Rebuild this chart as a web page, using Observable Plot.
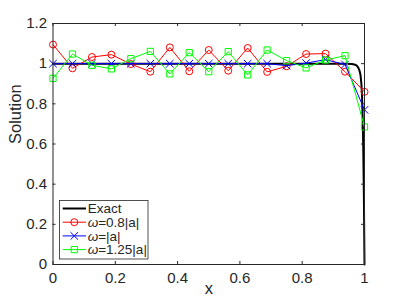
<!DOCTYPE html>
<html><head><meta charset="utf-8">
<script src="https://cdn.jsdelivr.net/npm/d3@7"></script>
<script src="https://cdn.jsdelivr.net/npm/@observablehq/plot@0.6"></script>
<style>body{margin:0;background:#fff;}</style>
</head><body><div id="chart"></div>
<script>
// ---- data ----
const xNodes = [0, 0.0625, 0.125, 0.1875, 0.25, 0.3125, 0.375, 0.4375, 0.5, 0.5625, 0.625, 0.6875, 0.75, 0.8125, 0.875, 0.9375, 1];
const red   = [1.095, 0.977, 1.033, 1.045, 0.998, 0.960, 1.081, 0.962, 1.068, 0.965, 1.078, 0.959, 0.987, 1.048, 1.050, 0.960, 0.860];
const blue  = [1.000, 1.000, 1.000, 1.000, 1.000, 1.000, 1.000, 1.000, 1.000, 1.000, 1.000, 1.000, 0.990, 1.003, 1.020, 0.996, 0.770];
const green = [0.927, 1.048, 0.992, 0.974, 1.025, 1.061, 0.949, 1.055, 0.960, 1.060, 0.944, 1.068, 1.015, 0.979, 1.018, 1.040, 0.685];
const exactX = [0, 0.94, 0.96, 0.97, 0.975, 0.98, 0.984, 0.987, 0.99, 0.992, 0.994, 0.996, 0.998, 1];
const exactY = [1, 1, 0.998, 0.995, 0.99, 0.98, 0.965, 0.945, 0.90, 0.84, 0.74, 0.58, 0.35, 0];
const xTicks = [0, 0.2, 0.4, 0.6, 0.8, 1];
const yTicks = [0, 0.2, 0.4, 0.6, 0.8, 1, 1.2];
const seriesNames = ["Exact", "ω=0.8|a|", "ω=|a|", "ω=1.25|a|"];
const seriesColors = ["#000000", "#ff0000", "#0000ff", "#00ff00"];
const seriesSymbols = [null, "circle", "times", "square"];
const xLabel = "x", yLabel = "Solution";

// ---- layout ----
const W = 402, H = 302, mL = 52.5, mR = 38, mT = 23, mB = 38;
const pw = W - mL - mR, ph = H - mT - mB;
const ink = "#262626", tl = 3, R = 3.5;

const exact = exactX.map((x, i) => ({x, y: exactY[i]}));
const series = [red, blue, green].map(arr => arr.map((v, i) => ({x: xNodes[i], y: v})));

const seriesMarks = [];
series.forEach((s, k) => {
  seriesMarks.push(Plot.line(s, {x: "x", y: "y", stroke: seriesColors[k + 1], strokeWidth: 1}));
  seriesMarks.push(Plot.dot(s, {x: "x", y: "y", symbol: seriesSymbols[k + 1], r: R, stroke: seriesColors[k + 1], strokeWidth: 1, fill: "none"}));
});

const plot = Plot.plot({
  width: W, height: H, marginLeft: mL, marginRight: mR, marginTop: mT, marginBottom: mB,
  style: {fontFamily: "'Liberation Sans', Arial, sans-serif", fontSize: "15px", color: ink, background: "#fff"},
  x: {domain: [0, 1]},
  y: {domain: [0, 1.2]},
  marks: [
    Plot.line(exact, {x: "x", y: "y", stroke: "#000", strokeWidth: 2}),
    ...seriesMarks,
    Plot.axisX({ticks: xTicks, tickFormat: d => String(d), tickSize: 0, tickPadding: 8, label: null, fontSize: 15}),
    Plot.axisY({ticks: yTicks, tickFormat: d => String(d), tickSize: 0, tickPadding: 6, label: null, fontSize: 15}),
    Plot.tickX(xTicks, {x: d => d, stroke: ink, insetTop: ph - tl}),
    Plot.tickX(xTicks, {x: d => d, stroke: ink, insetBottom: ph - tl}),
    Plot.tickY(yTicks, {y: d => d, stroke: ink, insetRight: pw - tl}),
    Plot.tickY(yTicks, {y: d => d, stroke: ink, insetLeft: pw - tl}),
    Plot.frame({stroke: ink, strokeWidth: 1}),
    Plot.text([yLabel], {text: d => d, frameAnchor: "left", rotate: -90, dx: -37, fontSize: 16.5, fill: ink}),
    Plot.text([xLabel], {text: d => d, frameAnchor: "bottom", dy: 29, fontSize: 16.5, fill: ink})
  ]
});
document.getElementById("chart").appendChild(plot);

// ---- legend ----
const symMap = {circle: d3.symbolCircle, times: d3.symbolTimes, square: d3.symbolSquare};
const svg = d3.select(plot);
const lg = svg.append("g").attr("font-family", "'Liberation Sans', Arial, sans-serif")
  .attr("font-size", 13.5).attr("fill", ink).attr("text-anchor", "start");
lg.append("rect").attr("x", 59.5).attr("y", 200.5).attr("width", 88.5).attr("height", 58.5)
  .attr("fill", "#fff").attr("stroke", ink).attr("stroke-width", 0.8);
seriesNames.forEach((name, k) => {
  const cy = 208.5 + k * 13.7;
  lg.append("line").attr("x1", 62.7).attr("x2", 86).attr("y1", cy).attr("y2", cy)
    .attr("stroke", seriesColors[k]).attr("stroke-width", k === 0 ? 2 : 1);
  if (seriesSymbols[k]) {
    lg.append("path").attr("transform", `translate(74.3,${cy})`)
      .attr("d", d3.symbol(symMap[seriesSymbols[k]], Math.PI * R * R)())
      .attr("fill", "none").attr("stroke", seriesColors[k]).attr("stroke-width", 1);
  }
  const t = lg.append("text").attr("x", 87.7).attr("y", cy).attr("dy", "0.36em").attr("text-anchor", "start");
  if (name.startsWith("ω")) {
    t.append("tspan").attr("font-style", "italic").text("ω");
    t.append("tspan").text(name.slice(1));
  } else t.text(name);
});
</script>
</body></html>
